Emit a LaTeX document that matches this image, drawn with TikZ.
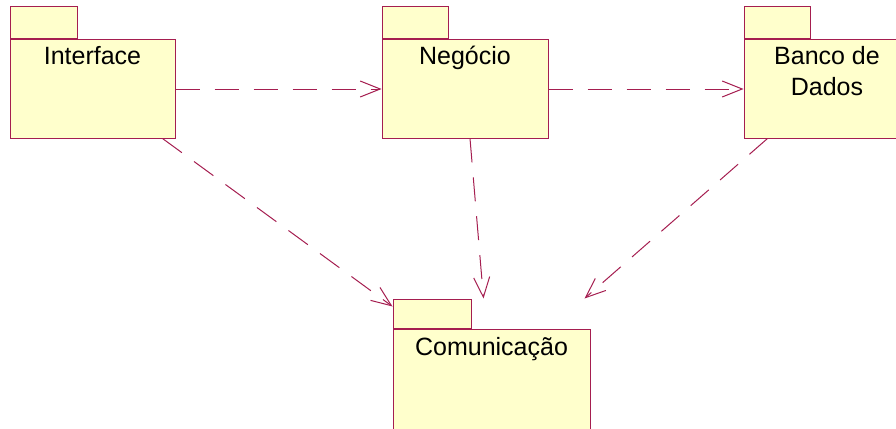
\documentclass[tikz,border=0pt]{standalone}
\usepackage{fontspec}
\setmainfont{Liberation Sans}
\usetikzlibrary{arrows.meta}
\definecolor{pkgline}{RGB}{165,30,80}
\definecolor{pkgfill}{RGB}{255,255,204}
\tikzset{pkg/.style={draw=pkgline,fill=pkgfill,line width=1pt,rectangle,inner sep=0pt},
         pkgname/.style={font=\fontsize{25pt}{31pt}\selectfont,align=center,inner sep=0pt,anchor=base},
         dep/.style={draw=pkgline,line width=1pt,dash pattern=on 24pt off 15pt,
                     -{Straight Barb[length=20pt,width=16pt]}}}

\begin{document}
\begin{tikzpicture}[x=1pt,y=-1pt]
  \useasboundingbox (0,0) rectangle (896,428);
  \clip (0,0) rectangle (896,428);
  % package bodies
  \node[pkg,minimum width=165pt,minimum height=98pt] (iface) at (92.5,89) {};
  \node[pkg,minimum width=166pt,minimum height=98pt] (neg) at (465,89) {};
  \node[pkg,minimum width=166pt,minimum height=98pt] (db) at (827,89) {};
  \node[pkg,minimum width=197pt,minimum height=110pt] (com) at (491.5,384) {};
  % tabs
  \node[pkg,anchor=south west,minimum width=67pt,minimum height=32pt] (ifacetab) at (iface.north west) {};
  \node[pkg,anchor=south west,minimum width=66pt,minimum height=32pt] (negtab) at (neg.north west) {};
  \node[pkg,anchor=south west,minimum width=66pt,minimum height=32pt] (dbtab) at (db.north west) {};
  \node[pkg,anchor=south west,minimum width=78pt,minimum height=29pt] (comtab) at (com.north west) {};
  % names (base of a two-line name is its last line)
  \node[pkgname] (ifacename) at ([yshift=-25pt]iface.north) {Interface};
  \node[pkgname] (negname) at ([yshift=-25pt]neg.north) {Negócio};
  \node[pkgname] (dbname) at ([yshift=-56pt]db.north) {Banco de\\Dados};
  \node[pkgname] (comname) at ([yshift=-27pt]com.north) {Comunicação};
  % dependencies
  \draw[dep] (iface.east) -- (neg.west);
  \draw[dep] (neg.east) -- (db.west);
  \draw[dep] ([xshift=-13pt]iface.south east) -- ([yshift=-8pt]comtab.north west);
  \draw[dep] ([xshift=5pt]neg.south) -- ([xshift=12pt]comtab.north east);
  \draw[dep] ([xshift=24pt]db.south west) -- ([xshift=113pt]comtab.north east);
\end{tikzpicture}
\end{document}
